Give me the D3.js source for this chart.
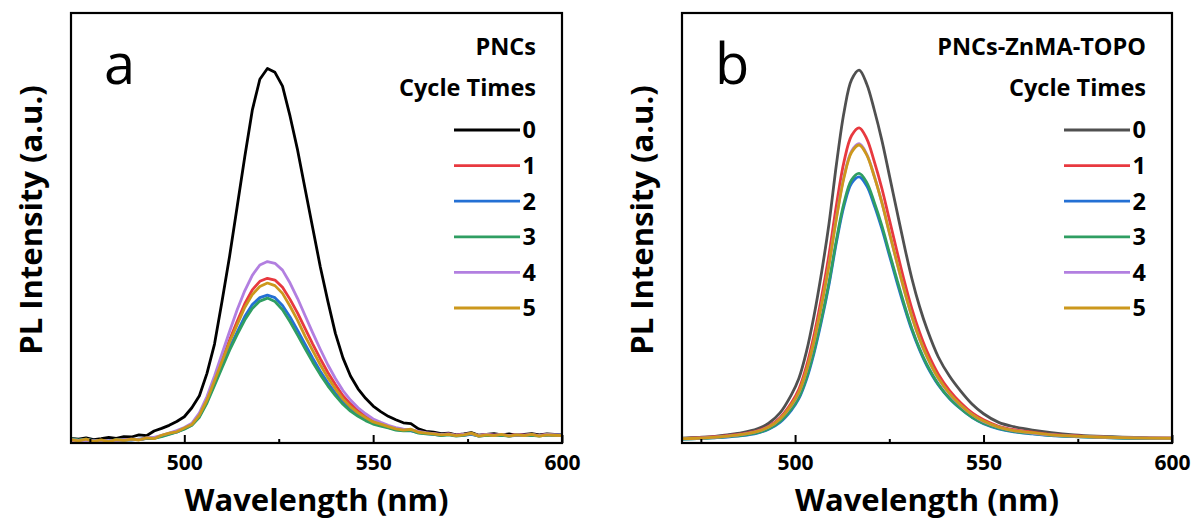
<!DOCTYPE html>
<html>
<head>
<meta charset="utf-8">
<script src="https://cdn.jsdelivr.net/npm/d3@7"></script>
<style>
  body { margin: 0; background: #fff; }
  svg text { font-family: "Open Sans", "Noto Sans", sans-serif; }
</style>
</head>
<body>
<svg width="1192" height="524"></svg>
<script>
// wavelength grids
var wlA = [470,472,474,476,478,480,482,484,486,488,490,492,494,496,498,500,502,504,506,508,510,512,514,516,518,520,522,524,526,528,530,532,534,536,538,540,542,544,546,548,550,552,554,556,558,560,562,564,566,568,570,572,574,576,578,580,582,584,586,588,590,592,594,596,598,600];
var wlB = [470,474,478,482,486,490,493,496,499,501,503,505,507,509,511,513,515,517,519,521,523,525,527,529,531,533,535,538,541,544,547,550,554,558,563,568,574,580,590,600];

// panel a: PNCs, cycle 0..5
var a0 = [1.1,0.9,1.2,0.8,1.0,1.3,1.1,1.5,1.4,1.9,1.7,2.8,3.4,4.1,5.0,6.1,8.2,11.0,16.2,23.0,33.0,43.5,55.0,66.5,77.4,84.6,87.1,86.2,83.0,76.0,68.1,59.0,50.0,41.0,33.0,25.5,19.8,15.6,12.6,10.4,8.6,7.3,6.2,5.4,4.7,4.5,3.3,2.7,2.5,2.2,2.3,1.9,2.1,2.4,1.8,2.0,2.2,1.9,2.1,1.8,2.0,2.2,1.9,2.1,2.0,1.9];
var a1 = [0.7,0.6,0.8,0.5,0.6,0.4,0.7,0.7,0.8,0.8,1.1,1.1,1.7,2.2,2.7,3.4,4.4,6.6,10.1,14.6,19.3,24.0,28.3,32.4,35.6,37.6,38.3,37.9,36.2,33.4,30.2,26.6,23.0,19.6,16.4,13.6,11.0,9.1,7.5,6.2,5.2,4.5,3.9,3.4,3.1,3.0,2.6,2.3,2.2,1.9,2.1,1.8,2.0,2.1,1.7,2.0,1.8,1.9,1.7,2.0,1.8,1.9,1.7,2.0,1.8,1.8];
var a2 = [0.9,0.6,0.8,0.6,0.5,0.5,0.7,0.8,0.7,0.9,1.0,1.2,1.6,2.1,2.5,3.3,4.2,6.2,9.6,13.8,18.0,22.2,25.8,29.4,32.2,33.8,34.4,33.8,32.0,29.3,26.2,22.9,19.7,16.7,14.0,11.6,9.5,7.8,6.5,5.5,4.6,4.1,3.6,3.1,2.9,2.8,2.4,2.2,2.0,1.8,2.0,1.7,1.8,2.0,1.6,1.8,1.7,1.9,1.6,1.8,1.7,1.9,1.7,1.8,1.9,1.8];
var a3 = [1.0,0.7,0.9,0.5,0.6,0.4,0.8,0.7,0.8,0.8,1.1,1.1,1.5,2.0,2.6,3.2,4.1,6.0,9.3,13.4,17.5,21.6,25.2,28.6,31.3,33.0,33.7,32.9,31.0,28.2,25.1,21.9,18.8,15.9,13.3,11.0,9.0,7.4,6.2,5.2,4.4,3.9,3.5,3.0,2.8,2.9,2.3,2.1,2.0,1.7,1.9,1.6,1.8,2.1,1.6,1.8,1.7,1.8,1.6,1.9,1.7,1.8,1.6,1.9,1.7,1.9];
var a4 = [0.8,0.6,0.7,0.5,0.6,0.5,0.6,0.8,0.9,0.8,1.2,1.3,1.8,2.3,2.9,3.6,4.6,7.0,10.8,15.6,20.8,26.0,31.0,35.4,39.0,41.4,42.2,41.8,40.2,37.2,33.6,29.6,25.6,21.8,18.2,15.0,12.2,10.0,8.2,6.8,5.6,4.8,4.1,3.6,3.2,3.1,2.7,2.4,2.2,2.0,2.1,1.8,2.0,2.2,1.7,2.0,1.8,2.0,1.7,1.9,1.8,2.0,1.7,2.0,1.9,1.8];
var a5 = [0.8,0.5,0.9,0.4,0.7,0.3,0.8,0.6,0.9,0.7,1.2,1.0,1.8,2.3,2.6,3.5,4.3,6.5,10.0,14.5,19.0,23.5,27.5,31.5,34.5,36.4,37.2,36.6,34.8,31.8,28.5,24.8,21.5,18.2,15.2,12.6,10.2,8.4,7.0,5.9,4.9,4.4,3.8,3.3,3.0,3.2,2.5,2.3,2.1,1.9,2.0,1.7,1.9,2.3,1.6,1.9,1.7,2.0,1.6,1.9,1.7,2.0,1.6,1.9,1.8,1.7];

// panel b: PNCs-ZnMA-TOPO, cycle 0..5
var b0 = [1.1,1.3,1.5,1.9,2.4,3.3,4.6,7.0,11.2,15.0,21.2,29.5,39.5,51.0,65.0,77.0,84.5,86.7,83.5,77.5,70.5,62.3,54.0,45.8,38.2,31.8,26.5,20.0,15.5,12.0,9.0,6.8,4.8,3.8,3.0,2.4,1.9,1.6,1.3,1.1];
var b1 = [1.0,1.2,1.4,1.7,2.1,2.8,3.9,5.9,9.3,12.5,17.8,25.0,33.8,43.8,55.5,65.5,71.5,73.3,70.8,65.5,59.3,52.0,44.7,37.6,31.2,25.8,21.3,16.0,12.2,9.3,7.0,5.4,3.9,3.1,2.5,2.0,1.7,1.4,1.2,1.1];
var b2 = [0.9,1.0,1.2,1.4,1.7,2.3,3.2,4.8,7.6,10.3,14.7,20.8,28.3,36.8,46.8,55.2,60.4,61.9,59.8,55.3,49.9,43.7,37.5,31.6,26.2,21.7,17.9,13.5,10.3,7.9,5.9,4.5,3.3,2.6,2.1,1.7,1.5,1.3,1.1,1.0];
var b3 = [0.9,1.0,1.2,1.5,1.8,2.4,3.3,5.0,7.9,10.6,15.1,21.3,28.9,37.4,47.4,55.9,61.2,62.7,60.6,56.0,50.6,44.3,38.1,32.1,26.6,22.0,18.2,13.7,10.4,8.0,6.0,4.6,3.4,2.7,2.2,1.8,1.5,1.3,1.1,1.0];
var b4 = [1.0,1.1,1.3,1.6,2.0,2.7,3.7,5.6,8.7,11.7,16.7,23.5,32.0,41.5,52.6,62.1,67.9,69.6,67.2,62.1,56.0,48.9,42.0,35.4,29.3,24.2,20.0,15.0,11.4,8.7,6.6,5.0,3.7,2.9,2.3,1.9,1.6,1.4,1.2,1.1];
var b5 = [1.0,1.1,1.3,1.6,2.0,2.7,3.7,5.6,8.8,11.8,16.8,23.6,32.0,41.4,52.4,61.8,67.6,69.3,67.0,62.0,56.0,49.0,42.1,35.5,29.4,24.3,20.1,15.1,11.5,8.8,6.6,5.1,3.7,2.9,2.4,1.9,1.6,1.4,1.2,1.1];

var cycles = ["0","1","2","3","4","5"];
var colorsA = ["#000000","#e8393f","#2470d4","#2f9e62","#b27fe0","#cc981c"];
var colorsB = ["#505050","#e8393f","#2470d4","#2f9e62","#b27fe0","#cc981c"];
var xTicks = [500, 550, 600];
var xMinor = [475, 525, 575];

var svg = d3.select("svg")

function panel(opt) {
  var left = opt.left, right = opt.right, top = 13, bottom = 443
  var g = svg.append("g")
  var x = d3.scaleLinear().domain([470, 600]).range([left, right])
  var y = d3.scaleLinear().domain([0, 100]).range([bottom, top])

  g.append("clipPath").attr("id", "clip" + opt.id)
    .append("rect").attr("x", left).attr("y", top).attr("width", right - left).attr("height", bottom - top)

  var line = d3.line()
    .x(function (d) { return x(d[0]); })
    .y(function (d) { return y(d[1]); })
    .curve(opt.curve)

  opt.series.forEach(function (s, i) {
    g.append("path")
      .datum(opt.wl.map(function (w, j) { return [w, s[j]]; }))
      .attr("clip-path", "url(#clip" + opt.id + ")")
      .attr("fill", "none")
      .attr("stroke", opt.colors[i])
      .attr("stroke-width", 2.8)
      .attr("stroke-linejoin", "round")
      .attr("d", line)
  })

  // x axis, ticks inward
  var ax = g.append("g").attr("transform", "translate(0," + bottom + ")")
    .call(d3.axisBottom(x).tickValues(xTicks).tickSize(-8).tickFormat(d3.format("d")).tickPadding(12))
  ax.select(".domain").remove()
  ax.selectAll("line").attr("stroke", "#000").attr("stroke-width", 2)
  ax.selectAll("text").attr("font-size", 21).attr("font-weight", "bold").attr("fill", "#000")
  var axm = g.append("g").attr("transform", "translate(0," + bottom + ")")
    .call(d3.axisBottom(x).tickValues(xMinor).tickSize(-4).tickFormat(""))
  axm.select(".domain").remove()
  axm.selectAll("line").attr("stroke", "#000").attr("stroke-width", 2)

  // frame
  g.append("rect").attr("x", left).attr("y", top).attr("width", right - left).attr("height", bottom - top)
    .attr("fill", "none").attr("stroke", "#000").attr("stroke-width", 2.2)

  g.append("text").attr("x", (left + right) / 2).attr("y", 511)
    .attr("text-anchor", "middle").attr("font-size", 31).attr("font-weight", "bold")
    .text("Wavelength (nm)")

  g.append("text").attr("transform", "translate(" + (left - 40) + ",220) rotate(-90)")
    .attr("text-anchor", "middle").attr("dy", "0.35em").attr("font-size", 31).attr("font-weight", "bold")
    .text("PL Intensity (a.u.)")

  g.append("text").attr("x", left + 33).attr("y", 84)
    .attr("font-size", 56).text(opt.tag)

  // legend
  var tx = right - 26
  g.append("text").attr("x", tx).attr("y", 47).attr("dy", "0.35em").attr("text-anchor", "end")
    .attr("font-size", 23.5).attr("font-weight", "bold").text(opt.title)
  g.append("text").attr("x", tx).attr("y", 88).attr("dy", "0.35em").attr("text-anchor", "end")
    .attr("font-size", 23.5).attr("font-weight", "bold").text("Cycle Times")
  var leg = g.selectAll(".leg").data(cycles).enter().append("g").attr("class", "leg")
    .attr("transform", function (d, i) { return "translate(0," + (130 + i * 35.6) + ")"; })
  leg.append("line").attr("x1", right - 108).attr("x2", right - 42)
    .attr("stroke", function (d, i) { return opt.colors[i]; }).attr("stroke-width", 2.8)
  leg.append("text").attr("x", tx).attr("dy", "0.36em").attr("text-anchor", "end")
    .attr("font-size", 23.5).attr("font-weight", "bold").text(function (d) { return d; })
}

panel({ id: "a", left: 71, right: 562, wl: wlA, series: [a0, a1, a2, a3, a4, a5], colors: colorsA,
  curve: d3.curveLinear, tag: "a", title: "PNCs" })
panel({ id: "b", left: 682, right: 1172, wl: wlB, series: [b0, b1, b2, b3, b4, b5], colors: colorsB,
  curve: d3.curveCatmullRom, tag: "b", title: "PNCs-ZnMA-TOPO" })
</script>
</body>
</html>
